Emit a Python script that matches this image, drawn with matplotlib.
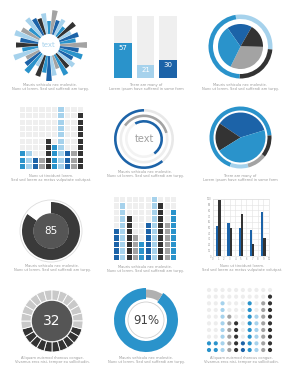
import numpy as np
import matplotlib.pyplot as plt

W, H = 288, 380
DARK = '#1c63a8'
MID = '#2a93cb'
LIGHT = '#a6d2ec'
GRAY = '#a3a3a3'
BLACK = '#333333'
BG = '#efefef'
PAL = {'d': DARK, 'm': MID, 'l': LIGHT, 'g': GRAY, 'k': BLACK}

# --- data ---
sun_len = [27, 16, 20, 14, 22, 12, 18, 15, 24, 13, 21, 17, 19, 23, 14, 20, 25, 18,
           22, 16, 26, 15, 19, 24, 13, 22, 17, 25, 20, 14, 23, 18, 21, 16, 24, 19]
sun_col = 'gmdlkmldgmlkdlmgldkmlgdmlkmdlgmkldmd'

bar_vals = [57, 21, 30]
bar_cols = [MID, LIGHT, DARK]

ring3_vals = [29, 24, 47]
pie3_vals = [18, 17, 32, 33]

grid4_h = [3, 3, 2, 2, 5, 4, 10, 3, 3, 9]
grid4_c = 'mldgkmldgk'

ring5_outer = [220, 140]
ring5_mid = [130, 230]
ring5_inner = [175, 185]

ring6_vals = [246, 35, 37, 42]
pie6_vals = [129, 66, 165]

donut7 = [85, 15]

grid8_h = [5, 9, 7, 4, 3, 6, 10, 9, 6, 8]
grid8_c = 'dlkgmdlkgm'

x9 = [1, 3, 5, 7, 9]
blue9 = [52, 58, 49, 45, 78]
black9 = [99, 50, 74, 21, 32]

seg_total = 24
seg_dark = 10

donut11 = [91, 9]

dots_h = [2, 2, 8, 6, 5, 2, 8, 6, 8, 9]
dots_c = 'mmlgkdmlgk'

captions = [
    (50, 85, 'Mauris vehicula nec molestie.', 'Nunc ut lorem. Sed sed suffendi am turpy.'),
    (146, 85, 'There are many of', 'Lorem ipsum have suffered in some form'),
    (240, 85, 'Mauris vehicula nec molestie.', 'Nunc ut lorem. Sed sed suffendi am turpy.'),
    (51, 176, 'Nunc ut tincidunt lorem.', 'Sed sed lorem ac metus vulputate volutpat.'),
    (145, 172, 'Mauris vehicula nec molestie.', 'Nunc ut lorem. Sed sed suffendi am turpy.'),
    (240, 176, 'There are many of', 'Lorem ipsum have suffered in some form'),
    (52, 266, 'Mauris vehicula nec molestie.', 'Nunc ut lorem. Sed sed suffendi am turpy.'),
    (145, 267, 'Mauris vehicula nec molestie.', 'Nunc ut lorem. Sed sed suffendi am turpy.'),
    (242, 266, 'Nunc ut tincidunt lorem.', 'Sed sed lorem ac metus vulputate volutpat.'),
    (52, 358, 'Aliquam euismod rhoncus congue.', 'Vivamus eros nisi, tempor eu sollicitudin.'),
    (146, 358, 'Mauris vehicula nec molestie.', 'Nunc ut lorem. Sed sed suffendi am turpy.'),
    (241, 358, 'Aliquam euismod rhoncus congue.', 'Vivamus eros nisi, tempor eu sollicitudin.'),
]

fig = plt.figure(figsize=(2.88, 3.8), dpi=100)
fig.patch.set_facecolor('white')


def box(cx, cy, w, h, **kw):
    return fig.add_axes([(cx - w / 2) / W, 1 - (cy + h / 2) / H, w / W, h / H], **kw)


def square(ax, r):
    ax.set_xlim(-r, r)
    ax.set_ylim(-r, r)
    ax.set_aspect('equal')
    ax.axis('off')


def cells(ax, heights, codes):
    n = len(heights)
    for r in range(10):
        cols = [PAL[c] if r < h else BG for h, c in zip(heights, codes)]
        ax.bar(np.arange(n), 0.82, bottom=r, width=0.82, color=cols)
    ax.set_xlim(-0.41, n - 1 + 0.41)
    ax.set_ylim(0, 9.82)
    ax.axis('off')


# 1 sunburst
ax = box(49, 45, 78, 78, projection='polar')
n = len(sun_len)
theta = np.arange(n) * 2 * np.pi / n
ax.bar(theta, sun_len, width=2 * np.pi / n * 0.9, bottom=11, color=[PAL[c] for c in sun_col])
ax.set_rlim(0, 39)
ax.axis('off')
ax.text(0, 0, 'text', ha='center', va='center', fontsize=5, color=LIGHT)

# 2 bars
ax = box(145.5, 47, 62.4, 62.6)
x = np.arange(3)
ax.bar(x, [100] * 3, width=0.79, color=BG)
ax.bar(x, bar_vals, width=0.79, color=bar_cols)
for xi, v in zip(x, bar_vals):
    ax.text(xi, v - 8, str(v), ha='center', va='center', color='white', fontsize=5)
ax.set_xlim(-0.395, 2.395)
ax.set_ylim(0, 100)
ax.axis('off')

# 3 ring + pie
ax = box(240.5, 46.5, 68, 68)
ax.pie(ring3_vals, radius=32, startangle=99, counterclock=False,
       colors=[LIGHT, BLACK, MID], wedgeprops=dict(width=4.5))
ax.pie(pie3_vals, radius=22.5, startangle=125, counterclock=False,
       colors=[DARK, BLACK, GRAY, MID])
square(ax, 34)

# 4 square grid
ax = box(51.5, 138, 63, 62)
cells(ax, grid4_h, grid4_c)

# 5 concentric arcs
ax = box(144, 139, 64, 64)
ax.pie(ring5_outer, radius=30, startangle=90, colors=[DARK, '#e8e8e8'], wedgeprops=dict(width=2.6))
ax.pie(ring5_mid, radius=24.5, startangle=145, counterclock=False,
       colors=[GRAY, '#eeeeee'], wedgeprops=dict(width=2.6))
ax.pie(ring5_inner, radius=19, startangle=120, counterclock=False,
       colors=[DARK, '#f3f3f3'], wedgeprops=dict(width=2.6))
ax.text(0, 0, 'text', ha='center', va='center', fontsize=7, color='#a0a0a0')
square(ax, 32)

# 6 ring + pie
ax = box(240.5, 137.5, 66, 66)
ax.pie(ring6_vals, radius=31, startangle=4, colors=[MID, LIGHT, GRAY, BLACK], wedgeprops=dict(width=4))
ax.pie(pie6_vals, radius=25, startangle=17, colors=[DARK, BLACK, MID])
square(ax, 33)

# 7 donut 85
ax = box(51, 231, 66, 66)
ax.pie(donut7, radius=29, startangle=90, counterclock=False,
       colors=['#3a3a3a', 'white'], wedgeprops=dict(width=11.5))
ax.add_patch(plt.Circle((0, 0), 31, fill=False, ec='#dddddd', lw=0.6))
ax.add_patch(plt.Circle((0, 0), 17, color='#555555'))
ax.text(0, 0, str(donut7[0]), ha='center', va='center', fontsize=7.5, color='white')
square(ax, 33)

# 8 square grid
ax = box(145, 228.5, 62, 63)
cells(ax, grid8_h, grid8_c)

# 9 grouped bars
ax = fig.add_axes([212.7 / W, 1 - 256 / H, 56.3 / W, 57 / H])
ax.bar(np.array(x9) - 0.2, blue9, width=0.4, color=DARK, zorder=3)
ax.bar(np.array(x9) + 0.2, black9, width=0.4, color=BLACK, zorder=3)
ax.set_xlim(0, 10)
ax.set_ylim(0, 100)
ax.set_xticks(range(11))
ax.set_yticks(range(0, 101, 10))
ax.grid(True, color='#e2e2e2', lw=0.4)
ax.tick_params(length=0, labelsize=1.8, labelcolor='#999999', pad=1)
for s in ax.spines.values():
    s.set_color('#dddddd')
    s.set_linewidth(0.4)

# 10 segmented gauge
ax = box(52, 321, 64, 64)
seg_cols = [BLACK] * seg_dark + ['#c9c9c9'] * (seg_total - seg_dark)
ax.pie([1] * seg_total, radius=31, startangle=-15, counterclock=False, colors=seg_cols,
       wedgeprops=dict(width=10, edgecolor='white', linewidth=0.6))
ax.add_patch(plt.Circle((0, 0), 19.5, color='#555555'))
ax.text(0, 0, '32', ha='center', va='center', fontsize=10, color='white')
square(ax, 32)

# 11 donut 91%
ax = box(146, 320, 66, 66)
wedges = ax.pie(donut11, radius=32, startangle=90, colors=[MID, '#b0b0b0'],
                wedgeprops=dict(width=11))[0]
wedges[1].set_radius(30.5)
wedges[1].set_width(8)
ax.add_patch(plt.Circle((0, 0), 18, fc='white', ec='#cfcfcf', lw=0.6))
ax.text(0, 0, f'{donut11[0]}%', ha='center', va='center', fontsize=8.5, color='#444444')
square(ax, 33)

# 12 dot grid
ax = box(239.5, 320, 67.8, 66.7)
xs, ys, cs = [], [], []
for i, (h, c) in enumerate(zip(dots_h, dots_c)):
    for r in range(10):
        xs.append(i)
        ys.append(r)
        cs.append(PAL[c] if r < h else '#ededed')
ax.scatter(xs, ys, s=9, c=cs, linewidths=0)
ax.set_xlim(-0.5, 9.5)
ax.set_ylim(-0.5, 9.5)
ax.axis('off')

for cx, y, l1, l2 in captions:
    fig.text(cx / W, 1 - y / H, l1, ha='center', va='center', fontsize=2.6, color='#9a9a9a')
    fig.text(cx / W, 1 - (y + 4) / H, l2, ha='center', va='center', fontsize=2.6, color='#9a9a9a')

fig.savefig('out.png', dpi=100)
